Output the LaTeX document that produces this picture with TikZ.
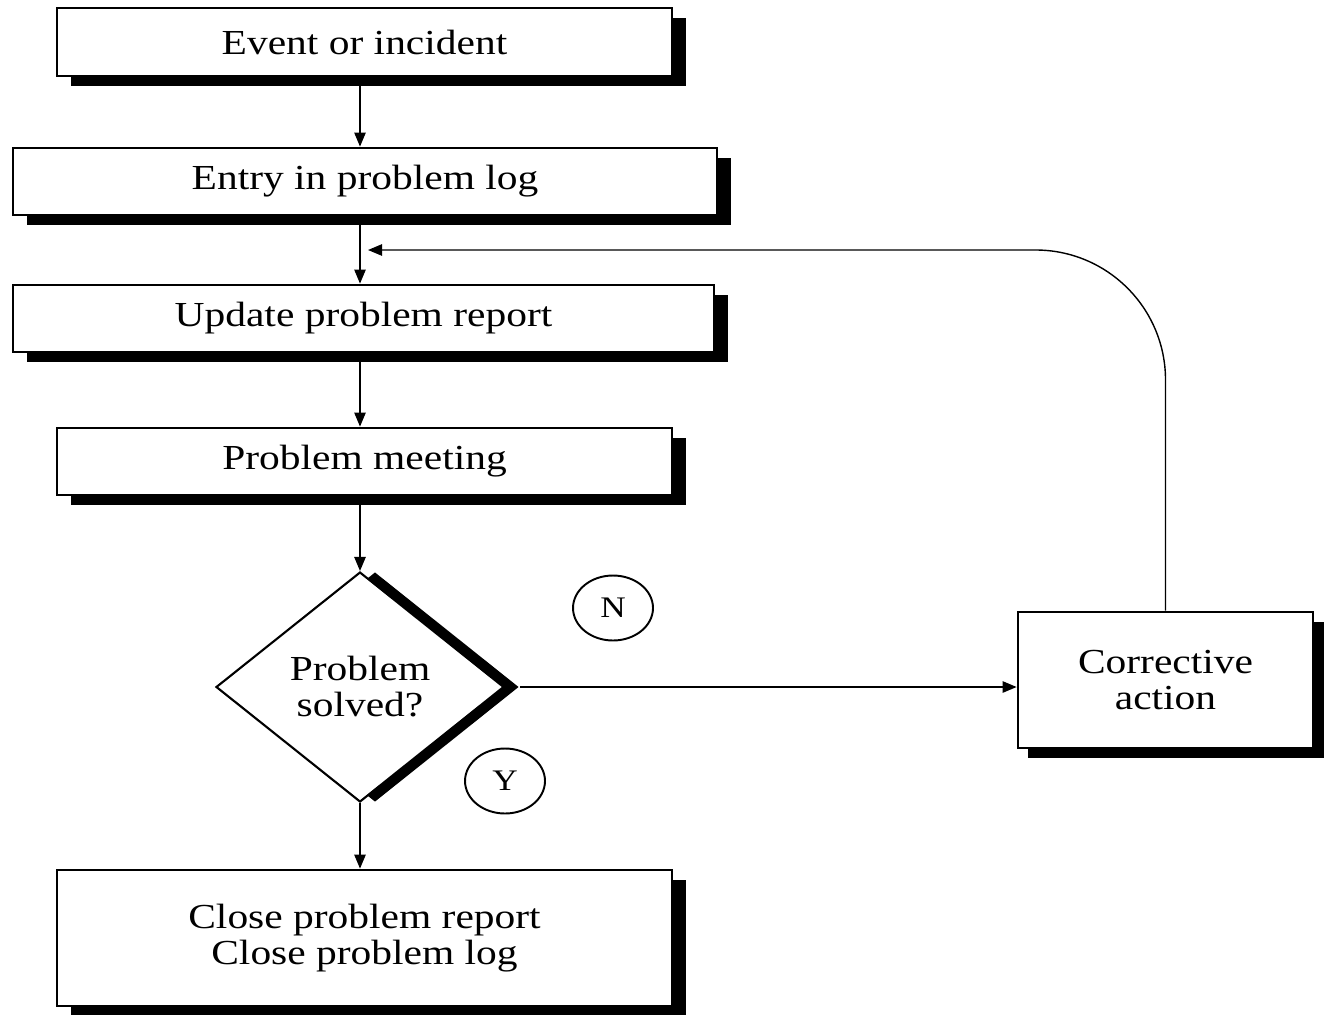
\documentclass[tikz,border=0pt]{standalone}
\usepackage{fontspec}
\setmainfont[FakeStretch=1.18]{Liberation Serif}
\usetikzlibrary{shapes.geometric,shadows,arrows.meta,calc}
\begin{document}
\begin{tikzpicture}[x=0.02cm,y=-0.02cm,
  procbox/.style={draw, line width=1.6pt, fill=white, rectangle, inner sep=0pt,
    align=center, font=\fontsize{20}{20.5}\selectfont,
    drop shadow={shadow xshift=0.28cm, shadow yshift=-0.2cm, fill=black, opacity=1}},
  decbox/.style={draw, line width=1.2pt, fill=white, diamond, inner sep=0pt,
    align=center, font=\fontsize{20}{20.5}\selectfont,
    drop shadow={shadow xshift=0.3cm, shadow yshift=0cm, fill=black, opacity=1}},
  tag/.style={draw, line width=1.1pt, ellipse, minimum width=1.6cm, minimum height=1.3cm,
    inner sep=0pt, font=\fontsize{17}{17}\selectfont},
  arr/.style={draw, line width=0.8pt, -{Triangle[length=8pt,width=6.5pt]}},
  loopline/.style={draw, line width=0.8pt, -{Triangle[length=8pt,width=6.5pt]}}
]
\useasboundingbox (0,0) rectangle (1324,1014);

\node[procbox, minimum width=12.3cm, minimum height=1.36cm] (b1) at (364.5,42) {Event or incident};
\node[procbox, minimum width=14.08cm, minimum height=1.34cm] (b2) at (365,181.5) {Entry in problem log};
\node[procbox, minimum width=14.02cm, minimum height=1.34cm] (b3) at (363.5,318.5) {Update problem report};
\node[procbox, minimum width=12.3cm, minimum height=1.34cm] (b4) at (364.5,461.5) {Problem meeting};
\node[decbox, minimum width=5.76cm, minimum height=4.6cm] (d) at (360,687) {Problem\\solved?};
\node[procbox, minimum width=5.9cm, minimum height=2.72cm,
  drop shadow={shadow xshift=0.2cm, shadow yshift=-0.2cm, fill=black, opacity=1}] (ca) at (1165.5,680) {Corrective\\action};
\node[procbox, minimum width=12.3cm, minimum height=2.72cm] (cl) at (364.5,938) {Close problem report\\Close problem log};

\node[tag] (n) at (613,608) {N};
\node[tag] (y) at (505,781) {Y};

\coordinate (back) at (368,250);

\draw[arr] (d.north |- b1.south) -- (d.north |- b2.north);
\draw[arr] (d.north |- b2.south) -- (d.north |- b3.north);
\draw[arr] (d.north |- b3.south) -- (d.north |- b4.north);
\draw[arr] (d.north |- b4.south) -- (d.north);
\draw[arr] (d.south) -- (d.south |- cl.north);
\draw[arr] ($(d.east)+(15,0)$) -- (ca.west |- d.east);
\draw[loopline, rounded corners=2.6cm] (ca.north) |- (back);
\end{tikzpicture}
\end{document}
